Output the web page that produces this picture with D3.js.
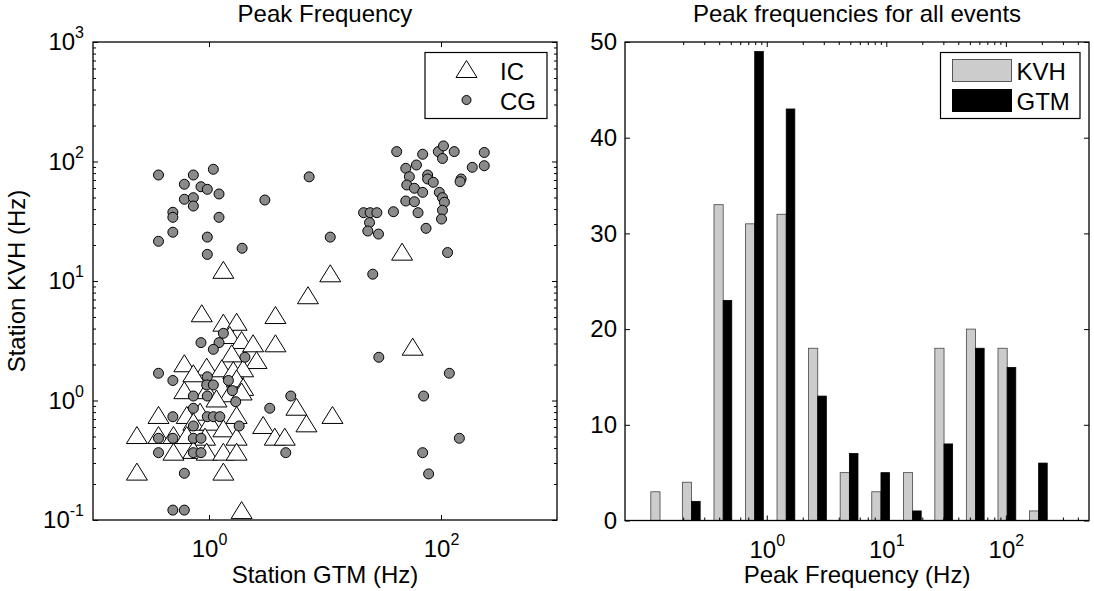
<!DOCTYPE html>
<html>
<head>
<meta charset="utf-8">
<script src="https://cdn.jsdelivr.net/npm/d3@7"></script>
<style>
body { margin: 0; background: #fff; }
svg { display: block; }
</style>
</head>
<body>
<svg id="chart" width="1094" height="591"></svg>
<script>
// ---- data ----
// IC events (triangles): station GTM peak (Hz) vs station KVH peak (Hz)
const icGTM = [1.33, 11.1, 46.2, 7.13, 57.0, 11.6, 0.866, 1.33, 1.73, 3.74, 3.74, 1.51, 1.91, 2.40, 1.57, 2.57,
    0.613, 0.955, 1.29, 1.62, 1.97, 0.733, 1.73, 1.97, 0.613, 0.955, 1.51, 1.91, 1.16, 5.67, 0.367, 0.643,
    0.837, 1.73, 6.92, 2.93, 0.733, 1.02, 1.33, 0.239, 0.367, 0.494, 0.643, 0.924, 1.73, 3.69, 4.50, 0.494,
    0.733, 0.955, 1.33, 1.73, 0.239, 1.33, 1.91];
const icKVH = [12.4, 11.6, 17.6, 7.6, 2.82, 0.757, 5.37, 4.48, 4.56, 5.19, 3.01, 3.53, 3.21, 3.01, 2.48, 2.18,
    2.05, 1.92, 1.86, 1.80, 1.86, 1.69, 1.53, 1.30, 1.22, 1.22, 1.15, 1.19, 1.04, 0.887, 0.757, 0.757,
    0.806, 0.757, 0.644, 0.624, 0.665, 0.665, 0.585, 0.514, 0.514, 0.514, 0.514, 0.498, 0.498, 0.498, 0.498, 0.373,
    0.386, 0.373, 0.373, 0.373, 0.254, 0.254, 0.121];

// CG events (circles)
const cgGTM = [0.367, 0.733, 1.09, 0.613, 0.853, 0.967, 1.22, 0.613, 0.733, 0.733, 3.03, 0.488, 0.488, 1.22, 0.488,
    0.367, 0.967, 0.967, 1.93, 7.3, 41.5, 69.5, 94.8, 105, 103, 130, 236, 236, 186, 61.4, 49.7, 53.4, 50.7, 59.0,
    69.5, 76.7, 76.7, 85.8, 149, 146, 96.7, 103, 107, 49.7, 59.0, 63.4, 103, 101, 74.3, 21.5, 24.5, 28.0, 24.2,
    23.4, 28.9, 38.9, 11.1, 114, 25.8, 1.33, 0.853, 1.22, 1.09, 2.04, 0.367, 0.488, 0.967, 0.955, 1.09, 1.47,
    1.59, 0.733, 0.967, 1.70, 0.733, 0.488, 0.967, 1.09, 1.24, 0.733, 1.82, 0.367, 0.488, 0.733, 0.853, 0.367,
    0.733, 0.853, 0.613, 0.488, 0.613, 3.34, 5.07, 4.59, 29.1, 118, 70.8, 144, 69.5, 78.2];
const cgKVH = [77.1, 77.1, 86.1, 64.5, 61.5, 58.5, 53.5, 48.3, 49.8, 42.4, 47.6, 37.6, 34.1, 34.1, 25.6,
    21.5, 23.3, 16.7, 18.8, 74.4, 121, 115, 121, 135, 106, 121, 119, 92.2, 89.4, 93.5, 87.7, 74.6, 63.6, 59.7,
    55.2, 77.1, 71.4, 67.0, 71.4, 67.8, 55.2, 49.8, 45.6, 46.7, 46.1, 37.3, 39.1, 33.0, 27.6, 37.3, 37.3, 37.3, 30.8,
    26.2, 24.7, 38.0, 23.3, 17.3, 11.4, 3.65, 3.05, 3.05, 2.68, 2.30, 1.69, 1.47, 1.58, 1.35, 1.35, 1.47,
    1.21, 1.09, 1.09, 0.977, 0.861, 0.732, 0.732, 0.732, 0.732, 0.612, 0.612, 0.483, 0.483, 0.483, 0.483, 0.366,
    0.366, 0.366, 0.246, 0.121, 0.121, 0.861, 1.09, 0.366, 2.30, 1.69, 1.09, 0.483, 0.366, 0.243];

// histogram: bin centres (Hz) and counts per station
const binCenters = [0.0697, 0.128, 0.235, 0.432, 0.793, 1.455, 2.67, 4.91, 9.02, 16.6, 30.4, 55.8, 102.6, 188, 346];
const kvhCounts = [0, 3, 4, 33, 31, 32, 18, 5, 3, 5, 18, 20, 18, 1, 0];
const gtmCounts = [0, 0, 2, 23, 49, 43, 13, 7, 5, 1, 8, 18, 16, 6, 0];

// tick values
const scatterXTicks = [1, 100];
const scatterYTicks = [0.1, 1, 10, 100, 1000];
const histXTicks = [1, 10, 100];
const histYTicks = [0, 10, 20, 30, 40, 50];

const FONT = '"Liberation Sans", Arial, Helvetica, sans-serif';
const FS = 24;
const svg = d3.select("#chart").attr("font-family", FONT);

function minorsOf(lo, hi) {
    let out = [];
    for (let p = lo; p < hi; p++) {
        for (let m = 2; m <= 9; m++) out.push(m * Math.pow(10, p));
    }
    return out;
}

// 10^k label with a superscript exponent
function powLabels(g) {
    g.selectAll(".tick text").each(function(d) {
        let t = d3.select(this);
        t.text("10");
        t.append("tspan")
            .attr("dy", -12)
            .attr("font-size", 16)
            .text(Math.round(Math.log10(d)));
    });
}

function addAxis(axis, tx, ty) {
    let g = svg.append("g")
        .attr("transform", "translate(" + tx + "," + ty + ")")
        .call(axis);
    g.select(".domain").remove();
    g.attr("font-size", FS).attr("font-family", FONT).attr("color", "black");
    g.selectAll(".tick text").attr("fill", "black");
    return g;
}

const triangle = {
    draw(ctx) {
        ctx.moveTo(0, -8.5);
        ctx.lineTo(10.5, 8.5);
        ctx.lineTo(-10.5, 8.5);
        ctx.closePath();
    }
};

// ================= left: scatter =================
const L = { x0: 93, x1: 557, y0: 42, y1: 520 };
const xL = d3.scaleLog().domain([0.1, 1000]).range([L.x0, L.x1]);
const yL = d3.scaleLog().domain([0.1, 1000]).range([L.y1, L.y0]);

svg.append("rect")
    .attr("x", L.x0).attr("y", L.y0)
    .attr("width", L.x1 - L.x0).attr("height", L.y1 - L.y0)
    .attr("fill", "white");

let scatter = svg.append("g");
scatter.selectAll("path.ic")
    .data(icGTM.map((v, i) => [v, icKVH[i]]))
    .join("path")
    .attr("class", "ic")
    .attr("d", d3.symbol().type(triangle))
    .attr("transform", d => "translate(" + xL(d[0]) + "," + yL(d[1]) + ")")
    .attr("fill", "white")
    .attr("stroke", "black")
    .attr("stroke-width", 1);

scatter.selectAll("circle.cg")
    .data(cgGTM.map((v, i) => [v, cgKVH[i]]))
    .join("circle")
    .attr("class", "cg")
    .attr("cx", d => xL(d[0]))
    .attr("cy", d => yL(d[1]))
    .attr("r", 5)
    .attr("fill", "#8a8a8a")
    .attr("stroke", "black")
    .attr("stroke-width", 1);

svg.append("rect")
    .attr("x", L.x0).attr("y", L.y0)
    .attr("width", L.x1 - L.x0).attr("height", L.y1 - L.y0)
    .attr("fill", "none").attr("stroke", "black").attr("stroke-width", 1.3);

addAxis(d3.axisBottom(xL).tickValues(scatterXTicks).tickSizeInner(-5).tickSizeOuter(0).tickPadding(20), 0, L.y1)
    .call(powLabels);
addAxis(d3.axisTop(xL).tickValues(scatterXTicks).tickSize(-5).tickFormat(""), 0, L.y0);
addAxis(d3.axisLeft(yL).tickValues(scatterYTicks).tickSizeInner(-5).tickSizeOuter(0).tickPadding(9), L.x0, 0)
    .call(powLabels);
addAxis(d3.axisLeft(yL).tickValues(minorsOf(-1, 3)).tickSize(-3).tickFormat(""), L.x0, 0);
addAxis(d3.axisRight(yL).tickValues(scatterYTicks).tickSize(-5).tickFormat(""), L.x1, 0);
addAxis(d3.axisRight(yL).tickValues(minorsOf(-1, 3)).tickSize(-3).tickFormat(""), L.x1, 0);

svg.append("text")
    .attr("x", (L.x0 + L.x1) / 2).attr("y", 22)
    .attr("text-anchor", "middle").attr("font-size", FS)
    .text("Peak Frequency");
svg.append("text")
    .attr("x", (L.x0 + L.x1) / 2).attr("y", 583)
    .attr("text-anchor", "middle").attr("font-size", FS)
    .text("Station GTM (Hz)");
svg.append("text")
    .attr("transform", "translate(25," + (L.y0 + L.y1) / 2 + ") rotate(-90)")
    .attr("text-anchor", "middle").attr("font-size", FS)
    .text("Station KVH (Hz)");

// legend
let legL = svg.append("g");
legL.append("rect")
    .attr("x", 425).attr("y", 52.5).attr("width", 122).attr("height", 66)
    .attr("fill", "white").attr("stroke", "black").attr("stroke-width", 1.2);
legL.append("path")
    .attr("d", d3.symbol().type(triangle))
    .attr("transform", "translate(466.5,69)")
    .attr("fill", "white").attr("stroke", "black");
legL.append("circle")
    .attr("cx", 466.5).attr("cy", 100).attr("r", 4.5)
    .attr("fill", "#8a8a8a").attr("stroke", "black");
legL.append("text").attr("x", 500).attr("y", 80).attr("font-size", FS).text("IC");
legL.append("text").attr("x", 500).attr("y", 110).attr("font-size", FS).text("CG");

// ================= right: histogram =================
const R = { x0: 625, x1: 1089, y0: 42, y1: 520.5 };
const xR = d3.scaleLog().domain([0.0652, 496]).range([R.x0, R.x1]);
const yR = d3.scaleLinear().domain([0, 50]).range([R.y1, R.y0]);
const barW = 9.2;

svg.append("clipPath").attr("id", "histClip")
    .append("rect")
    .attr("x", R.x0).attr("y", R.y0)
    .attr("width", R.x1 - R.x0).attr("height", R.y1 - R.y0);

let bars = svg.append("g").attr("clip-path", "url(#histClip)");
bars.selectAll("rect.kvh")
    .data(kvhCounts)
    .join("rect")
    .attr("class", "kvh")
    .attr("x", (d, i) => xR(binCenters[i]) - barW)
    .attr("y", d => yR(d))
    .attr("width", barW)
    .attr("height", d => yR(0) - yR(d))
    .attr("fill", "#cccccc")
    .attr("stroke", "#444")
    .attr("stroke-width", 0.8);
bars.selectAll("rect.gtm")
    .data(gtmCounts)
    .join("rect")
    .attr("class", "gtm")
    .attr("x", (d, i) => xR(binCenters[i]))
    .attr("y", d => yR(d))
    .attr("width", barW - 0.6)
    .attr("height", d => yR(0) - yR(d))
    .attr("fill", "black")
    .attr("stroke", "black")
    .attr("stroke-width", 0.8);

svg.append("rect")
    .attr("x", R.x0).attr("y", R.y0)
    .attr("width", R.x1 - R.x0).attr("height", R.y1 - R.y0)
    .attr("fill", "none").attr("stroke", "black").attr("stroke-width", 1.3);

const histMinor = minorsOf(-1, 2).concat([200, 300, 400]);
addAxis(d3.axisBottom(xR).tickValues(histXTicks).tickSizeInner(-5).tickSizeOuter(0).tickPadding(20), 0, R.y1)
    .call(powLabels);
addAxis(d3.axisBottom(xR).tickValues(histMinor).tickSize(-3).tickFormat(""), 0, R.y1);
addAxis(d3.axisTop(xR).tickValues(histXTicks).tickSize(-5).tickFormat(""), 0, R.y0);
addAxis(d3.axisTop(xR).tickValues(histMinor).tickSize(-3).tickFormat(""), 0, R.y0);
addAxis(d3.axisLeft(yR).tickValues(histYTicks).tickSizeInner(-5).tickSizeOuter(0).tickPadding(8)
    .tickFormat(d3.format("d")), R.x0, 0);
addAxis(d3.axisRight(yR).tickValues(histYTicks).tickSize(-5).tickFormat(""), R.x1, 0);

svg.append("text")
    .attr("x", (R.x0 + R.x1) / 2).attr("y", 22)
    .attr("text-anchor", "middle").attr("font-size", FS)
    .text("Peak frequencies for all events");
svg.append("text")
    .attr("x", (R.x0 + R.x1) / 2).attr("y", 583)
    .attr("text-anchor", "middle").attr("font-size", FS)
    .text("Peak Frequency (Hz)");

let legR = svg.append("g");
legR.append("rect")
    .attr("x", 940.5).attr("y", 52.5).attr("width", 139.5).attr("height", 66)
    .attr("fill", "white").attr("stroke", "black").attr("stroke-width", 1.2);
legR.append("rect")
    .attr("x", 952.5).attr("y", 59.5).attr("width", 59).attr("height", 22)
    .attr("fill", "#cccccc").attr("stroke", "#333").attr("stroke-width", 0.8);
legR.append("rect")
    .attr("x", 952.5).attr("y", 89.5).attr("width", 59).attr("height", 22)
    .attr("fill", "black").attr("stroke", "black");
legR.append("text").attr("x", 1016.5).attr("y", 79.5).attr("font-size", FS).text("KVH");
legR.append("text").attr("x", 1016.5).attr("y", 109.5).attr("font-size", FS).text("GTM");
</script>
</body>
</html>
